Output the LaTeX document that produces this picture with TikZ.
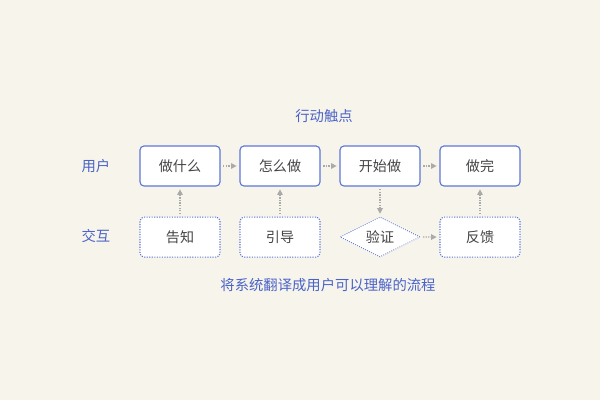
\documentclass[tikz,border=0pt]{standalone}
\usepackage{fontspec}
\setmainfont{Noto Sans CJK SC}
\usepackage{tikz}
\usetikzlibrary{positioning}
\usetikzlibrary{shapes.geometric, arrows.meta}
\definecolor{bgcol}{HTML}{F7F4EC}
\definecolor{boxblue}{HTML}{5B77D6}
\definecolor{labelblue}{HTML}{4A63C8}
\definecolor{textgray}{HTML}{444444}
\definecolor{arrowgray}{HTML}{AAAAAA}
\tikzstyle{action} = [rectangle, rounded corners=0.1cm, minimum width=2cm, minimum height=1cm, text centered, draw=boxblue, line width=0.8pt, fill=white, text=textgray, font=\fontsize{10}{12}\selectfont]
\tikzstyle{touch} = [rectangle, rounded corners=0.1cm, minimum width=2cm, minimum height=1cm, text centered, draw=boxblue, densely dotted, line width=0.8pt, fill=white, text=textgray, font=\fontsize{10}{12}\selectfont]
\tikzstyle{check} = [diamond, aspect=2, inner sep=0pt, minimum width=2cm, minimum height=1cm, text centered, draw=boxblue, densely dotted, line width=0.6pt, fill=white, text=textgray, font=\fontsize{10}{12}\selectfont]
\tikzstyle{rowlabel} = [text=labelblue, font=\fontsize{10.2}{12}\selectfont]
\tikzstyle{arrow} = [draw=arrowgray, densely dotted, line width=0.8pt, shorten <=2pt, shorten >=2pt, -{Triangle[width=4pt,length=4pt]}]

\begin{document}
\begin{tikzpicture}[node distance=2.5cm]
        \fill [bgcol] (0,0) rectangle (15,10);
        \useasboundingbox (0,0) rectangle (15,10);
        \node (what) [action] at (4.5,5.85) {做什么};
        \node (how) [action, right of=what] {怎么做};
        \node (start) [action, right of=how] {开始做};
        \node (done) [action, right of=start] {做完};
        \node (tell) [touch, below=0.75cm of what] {告知};
        \node (guide) [touch, below=0.75cm of how] {引导};
        \node (verify) [check, below=0.75cm of start] {验证};
        \node (feedback) [touch, below=0.75cm of done] {反馈};
        \node (user) [rowlabel] at (2.4,5.85) {用户};
        \node (inter) [rowlabel] at (2.4,4.1) {交互};
        \node (title) [rowlabel] at (8.1,7.1) {行动触点};
        \node (caption) [rowlabel] at (8.2,2.875) {将系统翻译成用户可以理解的流程};
        \draw [arrow] (what) -- (how);
        \draw [arrow] (how) -- (start);
        \draw [arrow] (start) -- (done);
        \draw [arrow] (tell) -- (what);
        \draw [arrow] (guide) -- (how);
        \draw [arrow] (start) -- (verify);
        \draw [arrow] (verify) -- (feedback);
        \draw [arrow] (feedback) -- (done);
    \end{tikzpicture}
\end{document}
